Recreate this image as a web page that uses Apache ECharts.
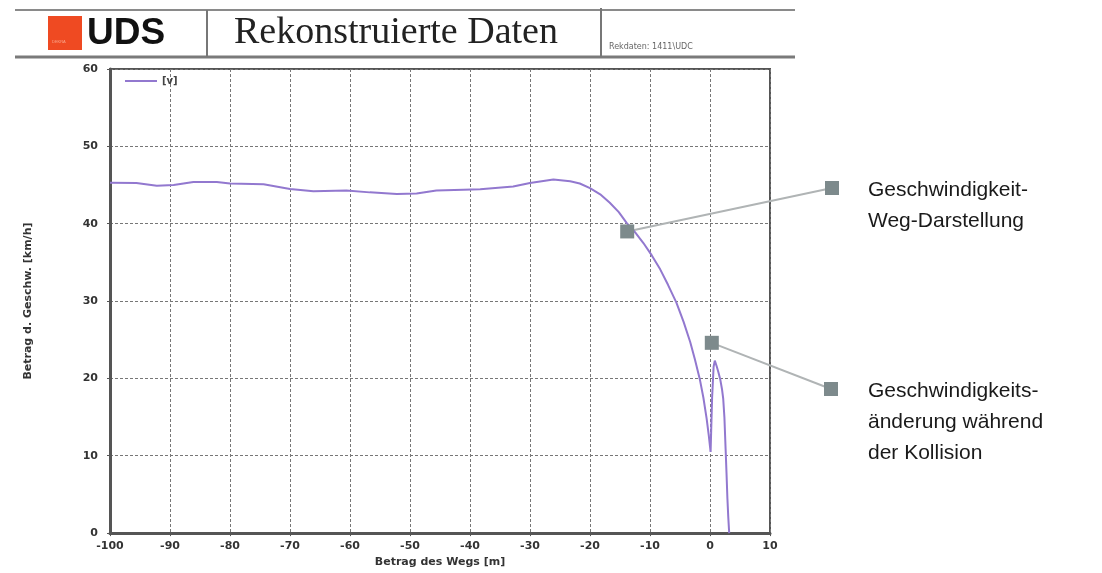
<!DOCTYPE html>
<html>
<head>
<meta charset="utf-8">
<script src="https://cdn.jsdelivr.net/npm/echarts@6/dist/echarts.min.js"></script>
<style>
  html, body { margin: 0; padding: 0; background: #fff; }
  #main { width: 1102px; height: 573px; }
</style>
</head>
<body>
<div id="main"></div>
<script>
// Weg [m] und Geschwindigkeit [km/h]
var wegM = [-100, -95.6, -92.2, -89.4, -86.1, -82.2, -80, -74.4, -70, -66.1, -60.6, -56.7, -52.2, -48.9,
  -45.6, -41.1, -38.3, -32.8, -30, -26.1, -23.3, -21.7, -20, -18.3, -16.7, -15.2, -13.9, -12.5, -11.1,
  -9.7, -8.3, -7, -5.6, -4.4, -3.3, -2.5, -1.7, -1.1, -0.56, -0.2, 0.1, 0.35, 0.6, 0.8, 1.1, 1.4,
  1.7, 2.0, 2.2, 2.4, 2.6, 2.75, 2.9, 3.05, 3.2];
var geschw = [45.3, 45.25, 44.9, 45.0, 45.4, 45.4, 45.2, 45.1, 44.5, 44.2, 44.3, 44.05, 43.85, 43.9,
  44.3, 44.4, 44.45, 44.8, 45.25, 45.7, 45.5, 45.2, 44.6, 43.8, 42.7, 41.5, 40.1, 38.9, 37.5,
  35.9, 34.1, 32.1, 29.8, 27.3, 24.7, 22.4, 19.9, 17.5, 14.8, 12.6, 10.5, 17.5, 21.5, 22.3, 21.6, 20.8,
  19.9, 18.6, 17.4, 15.0, 10.9, 7.8, 4.5, 2.0, 0];
var xTicks = { min: -100, max: 10, step: 10 };
var yTicks = { min: 0, max: 60, step: 10 };
// Markierungen auf der Kurve [Weg, Geschw.]
var markAt = [[-13.8, 39.0], [0.3, 24.6]];
var markText = [['Geschwindigkeit-', 'Weg-Darstellung'], ['Geschwindigkeits-', 'änderung während', 'der Kollision']];

var punkte = wegM.map(function (w, i) { return [w, geschw[i]]; });

var myChart = echarts.init(document.getElementById('main'));
var labelFont = { color: '#333', fontSize: 11, fontWeight: 'bold', fontFamily: 'DejaVu Sans' };

var option = {
  animation: false,
  backgroundColor: '#fff',
  grid: { left: 110, right: 332, top: 69, bottom: 38, show: true, borderColor: '#555', borderWidth: 2 },
  legend: {
    data: ['[v]'],
    left: 120, top: 71,
    icon: 'rect', itemWidth: 32, itemHeight: 2, itemGap: 6,
    textStyle: { color: '#444', fontSize: 10, fontWeight: 'bold', fontFamily: 'DejaVu Sans' }
  },
  xAxis: {
    type: 'value',
    min: xTicks.min, max: xTicks.max, interval: xTicks.step,
    name: 'Betrag des Wegs [m]', nameLocation: 'middle', nameGap: 23,
    nameTextStyle: labelFont,
    axisLine: { onZero: false, lineStyle: { color: '#555', width: 3 } },
    axisTick: { show: true, length: 3, lineStyle: { color: '#555' } },
    axisLabel: Object.assign({ margin: 8 }, labelFont),
    splitLine: { show: true, lineStyle: { color: '#777', type: [3, 2], width: 1 } }
  },
  yAxis: {
    type: 'value',
    min: yTicks.min, max: yTicks.max, interval: yTicks.step,
    name: 'Betrag d. Geschw. [km/h]', nameLocation: 'middle', nameGap: 76,
    nameTextStyle: labelFont,
    axisLine: { show: true, onZero: false, lineStyle: { color: '#555', width: 3 } },
    axisTick: { show: true, length: 3, lineStyle: { color: '#555' } },
    axisLabel: Object.assign({ margin: 12 }, labelFont),
    splitLine: { show: true, lineStyle: { color: '#777', type: [3, 2], width: 1 } }
  },
  series: [{
    name: '[v]',
    type: 'line',
    data: punkte,
    showSymbol: false,
    smooth: false,
    lineStyle: { color: '#9278cf', width: 2 },
    itemStyle: { color: '#9278cf' },
    markPoint: {
      symbol: 'rect', symbolSize: 14,
      itemStyle: { color: '#7d8a8c' },
      label: { show: false },
      data: markAt.map(function (p) { return { coord: p }; })
    },
    z: 3
  }]
};
myChart.setOption(option);

// Kopfzeile und Beschriftungen rechts
var rightSq = [[832, 188], [831, 389]];
var g = [
  { type: 'line', shape: { x1: 15, y1: 10, x2: 795, y2: 10 }, style: { stroke: '#8a8a8a', lineWidth: 2 } },
  { type: 'line', shape: { x1: 15, y1: 57, x2: 795, y2: 57 }, style: { stroke: '#7a7a7a', lineWidth: 3 } },
  { type: 'line', shape: { x1: 207, y1: 10, x2: 207, y2: 57 }, style: { stroke: '#777', lineWidth: 2 } },
  { type: 'line', shape: { x1: 601, y1: 8, x2: 601, y2: 57 }, style: { stroke: '#777', lineWidth: 2 } },
  { type: 'rect', shape: { x: 48, y: 16, width: 34, height: 34 }, style: { fill: '#ef4a22' } },
  { type: 'text', x: 52, y: 40, style: { text: 'DEKRA', fill: '#f9a58a', fontSize: 4, fontFamily: 'Liberation Sans' } },
  { type: 'text', x: 87, y: 34, style: { text: 'UDS', fill: '#111', fontSize: 37, fontWeight: 'bold', fontFamily: 'Liberation Sans', verticalAlign: 'middle' } },
  { type: 'text', x: 234, y: 33, style: { text: 'Rekonstruierte Daten', fill: '#222', fontSize: 38, fontFamily: 'Liberation Serif', verticalAlign: 'middle' } },
  { type: 'text', x: 609, y: 47, style: { text: 'Rekdaten: 1411\\UDC', fill: '#666', fontSize: 8, fontFamily: 'DejaVu Sans', verticalAlign: 'middle' } }
];
markAt.forEach(function (p, i) {
  var px = myChart.convertToPixel({ gridIndex: 0 }, p);
  g.push({ type: 'line', shape: { x1: px[0], y1: px[1], x2: rightSq[i][0], y2: rightSq[i][1] }, style: { stroke: '#b0b4b5', lineWidth: 2 }, z: 1 });
  g.push({ type: 'rect', shape: { x: rightSq[i][0] - 7, y: rightSq[i][1] - 7, width: 14, height: 14 }, style: { fill: '#7d8a8c' }, z: 2 });
  g.push({ type: 'text', x: 868, y: rightSq[i][1] - 13, style: {
    text: markText[i].join('\n'), fill: '#1a1a1a', fontSize: 21, lineHeight: 31,
    fontFamily: 'Liberation Sans', verticalAlign: 'top' } });
});
myChart.setOption({ graphic: g });
</script>
</body>
</html>
